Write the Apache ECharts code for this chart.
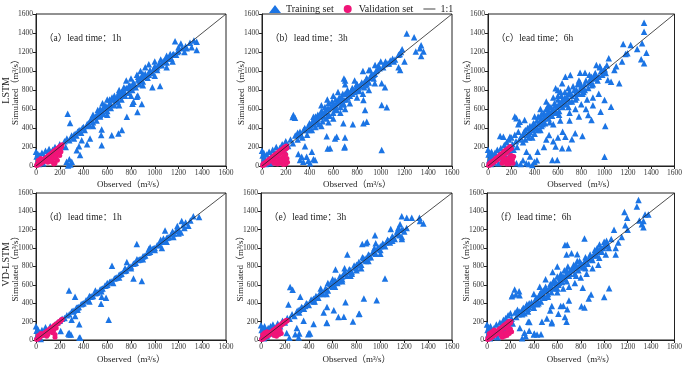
<!DOCTYPE html>
<html>
<head>
<meta charset="utf-8">
<script src="https://cdn.jsdelivr.net/npm/echarts@6/dist/echarts.min.js"></script>
<style>
  html, body { margin: 0; padding: 0; background: #fff; }
  #chartView { width: 685px; height: 365px; }
</style>
</head>
<body>
<div id="chartView"></div>
<script>
// 面板标题与行标签
var panelLabels = ['（a）lead time：1h', '（b）lead time：3h', '（c）lead time：6h',
                   '（d）lead time：1h', '（e）lead time：3h', '（f）lead time：6h'];
var rowLabels = ['LSTM', 'VD-LSTM'];
var oneToOne = [[0, 0], [1600, 1600]];

// (a) LSTM 1h
var trainA = [[0,150],[5,100],[10,40],[15,130],[20,70],[25,20],[30,110],[40,60],[50,140],[60,30],[70,100],[80,160],[90,60],[100,130],[110,180],[120,100],[140,170],[160,200],[180,150],[200,230],[220,210],[240,260],[250,200],[260,290],[280,270],[300,320],[320,290],
  [258,45],[281,70],[301,45],[290,15],[270,5],[371,115],[343,167],[362,209],[385,272],[455,289],[430,230],[553,219],[553,383],[549,326],[638,324],[694,341],[267,550],[287,453],
  [330,340],[340,320],[360,370],[380,350],[400,410],[410,380],[430,440],[450,430],[460,490],[480,460],[500,520],[510,480],[530,560],[540,520],[560,600],[570,550],[590,630],[600,580],[620,660],[630,610],[650,700],[660,640],[680,720],[690,670],[700,760],[720,700],[730,790],[750,740],[760,820],[780,770],[790,850],[810,800],[820,880],[840,830],[860,910],[870,860],[890,940],[900,890],[920,970],[940,930],[960,1010],[980,980],[1000,1050],[1020,1010],[1040,1080],[1060,1060],[1080,1110],[1100,1090],[1120,1140],[1140,1130],[1160,1180],[1180,1170],[1200,1210],
  [310,300],[350,360],[390,400],[430,420],[470,480],[510,530],[550,570],[590,600],[630,650],[670,690],[710,740],[750,770],[790,820],[830,860],[870,900],[910,940],[950,980],[990,1020],[1030,1060],[1070,1100],[1110,1130],[1150,1170],[1190,1200],[660,740],[720,780],[740,830],[860,940],[900,970],[580,640],[620,700],[540,600],[1130,1180],[1230,1240],[1260,1260],
  [320,330],[370,380],[440,450],[490,510],[540,540],[610,620],[680,700],[740,760],[810,830],[880,900],[950,960],[1020,1040],[1090,1100],[700,780],[780,840],
  [560,660],[600,700],[640,720],[700,800],[760,900],[800,920],[850,960],[880,1000],[920,1040],[950,1070],[1000,1100],[1050,1120],[1100,1160],[520,590],[480,540],
  [480,420],[600,540],[700,640],[800,740],[900,850],[1000,950],[1100,1040],
  [812,655],[854,568],[857,742],[821,677],[891,653],[849,730],[980,828],[1045,842],[723,379],[765,519],[1311,1249],[1353,1221],[1269,1239],[1297,1298],[1171,1312],[1353,1309],[1220,1290],[1330,1320],[1250,1200],[1200,1250],[1150,1100]];
var validA = [[5,5],[10,20],[15,10],[20,25],[25,15],[30,35],[35,20],[40,45],[45,30],[50,55],[55,40],[60,65],[65,45],[70,75],[75,55],[80,85],[85,60],[90,95],[95,70],[100,105],[105,80],[110,115],[115,90],[120,125],[125,100],[130,135],[135,110],[140,145],[145,120],[150,155],[155,130],[160,165],[165,140],[170,175],[175,150],[180,185],[185,160],[190,195],[195,170],[200,205],[205,180],[210,215],[215,200],[220,225],[130,60],[140,40],[150,80],[160,30],[170,100],[180,60],[190,130],[200,110],[210,150],[150,20],[120,50],[100,40],[20,60],[40,80]];

// (b) LSTM 3h
var trainB = [[0,160],[5,110],[10,50],[15,140],[20,90],[30,20],[40,120],[50,60],[60,150],[70,30],[80,110],[90,170],[100,70],[110,140],[120,200],[130,110],[150,190],[170,230],[190,160],[200,260],[220,210],[240,280],[260,240],[280,320],[300,280],[300,350],
  [320,63],[390,56],[433,70],[404,28],[348,46],[334,98],[306,126],[376,98],[362,209],[420,150],[258,516],[278,509],[264,537],[433,519],[447,63],[545,314],[553,185],[573,186],[615,289],[629,309],[697,204],[685,449],[694,195],[699,300],
  [320,360],[340,300],[360,400],[380,330],[400,450],[420,380],[440,490],[450,410],[470,540],[480,440],[500,580],[510,470],[530,620],[540,500],[560,660],[570,530],[590,680],[600,560],[620,700],[630,590],[650,720],[660,620],[680,760],[690,650],[700,900],[710,700],[720,800],[740,740],[760,820],[780,780],[800,860],[820,790],[840,880],[860,830],[880,920],[900,880],[920,960],[940,920],[960,1000],[980,1060],[1000,1100],[1020,1040],[1040,1100],[1060,1080],[1080,1110],[1100,1130],[1120,1120],[1150,1170],[1170,1200],[1180,1230],
  [310,330],[350,380],[390,420],[430,440],[470,500],[510,560],[550,600],[590,620],[630,660],[670,720],[710,760],[750,790],[790,820],[830,850],[870,890],[910,930],[950,970],[990,1030],[1030,1070],[1070,1080],[1110,1100],[1160,1180],[420,460],[480,520],[540,560],[620,640],[720,720],[760,760],[820,840],[880,860],[940,960],[580,620],[650,700],[700,760],
  [330,320],[370,380],[410,430],[460,460],[490,540],[520,520],[560,600],[610,640],[640,680],[690,700],[730,770],[770,800],[810,830],[860,880],[890,900],[930,950],[970,1010],[400,380],[460,480],[530,580],[600,620],[670,690],[730,740],[810,800],[870,850],[560,540],[620,600],[680,650],
  [450,520],[500,640],[550,700],[600,740],[640,780],[690,920],[700,860],[780,900],[850,1000],[900,1010],[600,650],[650,680],
  [500,420],[560,460],[600,500],[660,560],[700,600],[740,660],[800,720],[850,760],[900,800],[950,870],
  [798,863],[882,923],[910,1011],[952,1063],[854,695],[868,589],[882,467],[854,449],[765,440],[1008,870],[1036,828],[1008,642],[1051,618],[1008,168],[1163,1011],[1219,1396],[1281,1354],[1295,1204],[1340,1270],[1340,1158],[1360,1204],[1330,1240],[1200,1100],[1150,1040]];
var validB = [[5,5],[10,25],[15,10],[20,30],[25,15],[30,40],[40,30],[45,55],[50,35],[60,70],[65,50],[70,80],[80,65],[85,95],[90,75],[100,110],[105,85],[110,120],[120,100],[125,135],[130,115],[140,150],[145,125],[150,160],[160,140],[165,175],[170,150],[180,190],[185,165],[190,200],[200,180],[205,210],[210,190],[140,60],[150,30],[160,80],[170,40],[180,100],[190,60],[200,120],[210,80],[215,40],[130,20],[120,45],[100,30],[200,20],[180,15]];

// (c) LSTM 6h
var trainC = [[0,170],[5,120],[10,60],[15,140],[20,90],[25,20],[30,150],[40,110],[50,40],[60,140],[70,80],[80,170],[90,30],[100,120],[110,190],[120,60],[130,150],[140,220],[150,100],[160,250],[170,180],[180,280],[190,130],[200,300],[210,230],[220,170],[230,330],[240,260],[250,200],[260,360],[270,280],
  [104,316],[132,309],[188,309],[244,502],[272,467],[314,484],[230,520],[260,440],
  [244,28],[328,28],[398,46],[426,151],[360,100],[300,60],[280,20],[350,20],[380,10],[420,60],[330,150],[524,326],[580,204],[636,186],[692,186],[552,63],[594,63],[720,281],[748,344],[664,309],[640,360],[560,260],[600,300],[480,200],[500,280],
  [300,330],[320,280],[340,400],[350,300],[360,360],[380,420],[400,340],[420,480],[430,380],[450,520],[460,420],[480,560],[490,450],[500,600],[520,500],[540,620],[550,530],[570,660],[580,560],[600,700],[610,580],[630,740],[640,620],[660,780],[670,650],[690,820],[700,680],[720,740],[740,800],[750,700],[770,860],[780,760],[800,840],[820,780],[840,900],[860,820],[880,920],[900,860],[920,980],[940,900],[960,1040],[980,960],[1000,1020],[1020,1060],
  [310,360],[350,340],[390,380],[430,440],[470,480],[510,550],[550,580],[590,620],[630,680],[670,700],[710,760],[750,760],[790,800],[830,860],[870,880],[910,920],[950,940],[990,1000],[420,400],[480,500],[540,560],[620,640],[680,720],[760,800],[820,820],[880,880],[360,420],[400,440],[460,500],[520,580],[580,640],[640,700],
  [280,300],[300,250],[320,380],[340,330],[370,390],[390,450],[410,400],[440,460],[460,550],[470,440],[490,520],[510,620],[530,540],[560,600],[590,560],[610,660],[650,650],[660,720],[700,780],[720,680],[730,840],[760,720],[790,880],[810,760],[830,800],[870,960],[890,850],[930,940],[970,1000],[1010,980],[430,520],[520,640],[600,740],[690,760],[780,900],[380,300],[450,380],[530,460],[610,540],[690,620],
  [580,818],[622,782],[636,870],[664,940],[706,958],[790,982],[832,982],[888,940],[916,958],[930,1063],[960,1050],[600,800],[560,720],[500,680],[450,600],[400,520],
  [700,560],[750,600],[800,650],[850,700],[900,720],[950,760],[700,480],[780,520],[620,480],[560,440],
  [810,316],[860,537],[888,484],[840,600],[900,640],[966,572],[1000,695],[1056,625],[1006,421],[1000,98],[1028,905],[1056,888],[1126,870],[1000,1011],[1084,1011],[1036,1133],[1160,1284],[1224,1274],[1196,1186],[1280,1232],[1339,1509],[1339,1414],[1322,1291],[1359,1193],[1339,1081],[1314,1123],[1180,1180],[1150,1100],[1100,1050]];
var validC = [[5,5],[10,25],[15,10],[20,35],[25,15],[30,45],[40,30],[45,55],[50,40],[60,70],[65,50],[70,85],[80,65],[85,95],[90,75],[100,115],[105,90],[110,125],[120,100],[125,140],[130,115],[140,155],[145,130],[150,165],[160,140],[165,180],[170,155],[180,195],[185,170],[190,205],[200,185],[150,40],[160,70],[170,30],[180,90],[190,50],[200,110],[210,70],[215,30],[200,40],[180,20],[160,20],[140,80],[220,100],[130,50],[120,30]];

// (d) VD-LSTM 1h
var trainD = [[0,150],[5,100],[10,50],[15,120],[20,30],[30,80],[40,10],[50,110],[60,60],[80,140],[100,100],[120,150],[140,130],[160,170],[180,190],[200,210],[220,230],[240,240],[260,270],[280,280],
  [208,98],[272,70],[280,60],[365,28],[300,220],[330,260],[364,171],[280,77],[294,59],[372,24],
  [300,310],[320,320],[340,350],[360,360],[380,390],[400,400],[420,430],[440,440],[460,470],[480,480],[500,510],[520,520],[540,550],[560,560],[580,590],[600,600],[620,630],[640,640],[660,670],[680,680],[700,710],[720,720],[740,750],[760,760],[780,790],[800,800],[820,830],[840,840],[860,870],[880,880],[900,910],[920,920],[940,950],[960,960],[980,990],[1000,1000],[1020,1030],[1040,1040],[1060,1070],[1080,1080],[1100,1110],[1120,1120],[1140,1150],[1160,1160],[1180,1190],[1200,1200],
  [310,315],[350,355],[390,395],[430,435],[470,475],[510,515],[550,555],[590,595],[630,635],[670,675],[710,715],[750,755],[790,795],[830,835],[870,875],[910,915],[950,955],[990,995],[1030,1035],[1070,1075],[1110,1115],[1150,1155],[1190,1195],[1240,1250],[1260,1280],
  [350,330],[450,420],[550,530],[600,620],[650,620],[700,680],[750,780],[800,780],[850,880],[900,880],[950,990],[1000,980],[1050,1090],[1100,1070],[1150,1180],[1200,1160],[500,540],[450,480],
  [278,540],[329,470],[553,470],[590,460],[548,394],[612,220],[640,808],[765,850],[821,669],[891,641],[961,1010],[849,1045],[1087,1191],[1073,1104],[1157,1122],[1227,1296],[1283,1244],[1325,1348],[1373,1338],[1300,1300],[1250,1220],[1220,1170],[1190,1240],[1060,1000]];
var validD = [[5,5],[10,15],[15,10],[20,25],[25,20],[30,35],[35,30],[40,45],[50,50],[55,60],[60,55],[70,75],[75,70],[80,85],[90,90],[95,100],[100,95],[110,115],[115,110],[120,125],[130,130],[135,140],[140,135],[150,155],[155,150],[160,165],[170,170],[175,180],[180,175],[190,195],[195,190],[200,205],[210,210],[215,220],[220,225],[130,100],[140,80],[150,110],[160,60],[170,130],[120,90],[100,60],[90,40],[20,50],[40,70],[160,30]];

// (e) VD-LSTM 3h
var trainE = [[0,160],[5,110],[10,50],[15,130],[20,80],[25,20],[30,150],[40,100],[50,40],[60,130],[70,70],[80,150],[90,100],[100,170],[120,120],[140,180],[160,150],[180,210],[200,190],[220,240],[240,230],[260,280],[280,260],
  [215,77],[237,24],[287,63],[321,70],[315,28],[396,63],[402,77],[411,70],[441,174],[357,209],[300,130],[550,188],[553,185],[648,251],[694,254],[525,300],[553,359],[610,324],[708,411],[770,202],[820,282],[824,286],[862,453],[969,432],[1039,669],
  [244,578],[265,547],[230,387],[329,470],[624,767],[723,930],
  [300,310],[320,300],[340,360],[360,340],[380,400],[400,380],[420,440],[440,420],[460,480],[480,460],[500,520],[520,500],[540,560],[560,540],[580,610],[600,580],[620,650],[640,620],[660,690],[680,660],[700,730],[720,700],[740,770],[760,740],[780,810],[800,780],[820,850],[840,820],[860,890],[880,860],[900,930],[920,900],[940,970],[960,940],[980,1010],[1000,980],[1020,1050],[1040,1020],[1060,1090],[1080,1060],[1100,1130],[1120,1100],[1140,1160],[1160,1140],[1180,1100],[1180,1200],
  [310,320],[350,350],[390,390],[430,430],[470,470],[510,510],[550,550],[590,590],[630,630],[670,680],[710,720],[750,760],[790,790],[830,830],[870,870],[910,920],[950,960],[990,990],[1030,1040],[1070,1080],[1110,1110],[1150,1150],[1190,1200],[1220,1220],[600,620],[700,740],[800,820],[900,900],[1000,1020],
  [320,330],[370,370],[440,450],[490,500],[540,540],[610,620],[680,690],[740,740],[810,810],[880,890],[950,950],[1020,1030],[1090,1100],[1140,1180],[1160,1200],
  [500,560],[560,620],[600,660],[650,640],[700,780],[750,700],[800,760],[850,900],[900,860],[950,1000],[1000,940],[1050,1060],[1100,1080],[1150,1220],[450,420],[550,500],[620,580],[680,640],[760,720],[840,780],
  [848,1045],[890,1066],[880,1052],[961,1052],[955,1139],[1087,1209],[1179,1348],[1221,1330],[1165,1261],[1263,1331],[1327,1331],[1360,1268],[1332,1296],[1200,1180],[1180,1120]];
var validE = [[5,5],[10,20],[15,10],[20,30],[25,15],[30,40],[40,35],[45,50],[50,40],[60,65],[65,50],[70,75],[80,70],[85,90],[90,80],[100,105],[105,90],[110,115],[120,110],[125,130],[130,120],[140,145],[145,135],[150,155],[160,150],[165,170],[170,160],[180,185],[185,175],[190,195],[200,190],[205,210],[210,200],[215,215],[220,210],[140,90],[150,60],[160,100],[170,70],[120,60],[130,40],[110,50],[30,80],[15,60],[50,90]];

// (f) VD-LSTM 6h
var trainF = [[0,170],[5,110],[10,60],[15,140],[20,90],[25,20],[30,150],[40,110],[50,40],[60,130],[70,80],[80,170],[90,30],[100,120],[110,190],[120,70],[130,160],[140,220],[150,110],[160,240],[170,180],[180,270],[190,140],[200,290],[210,230],[220,180],[240,300],[250,250],[260,330],[270,280],
  [216,488],[236,551],[278,488],[246,495],[274,530],[212,477],
  [330,42],[320,80],[400,59],[404,70],[427,59],[461,63],[300,20],[280,130],[360,100],[362,195],[352,199],[469,199],[511,233],[539,321],[553,195],[553,181],[553,369],[609,286],[629,369],[651,373],[665,251],[679,199],[685,334],[699,429],[806,366],[832,355],[888,495],[1000,467],[1042,564],[868,453],[817,568],
  [300,330],[320,290],[340,390],[350,310],[360,360],[380,410],[400,350],[420,460],[430,390],[450,500],[460,420],[480,540],[490,460],[500,580],[520,500],[540,610],[550,520],[570,650],[580,560],[600,690],[610,600],[630,720],[640,630],[660,760],[670,660],[690,800],[700,700],[720,760],[740,820],[750,720],[770,860],[780,760],[800,840],[820,790],[840,900],[860,830],[880,930],[900,870],[920,980],[940,920],[960,1040],[980,960],[1000,1020],[1020,1080],[1040,1000],
  [310,350],[350,340],[390,380],[430,440],[470,480],[510,540],[550,580],[590,620],[630,680],[670,700],[710,760],[750,780],[790,800],[830,850],[870,880],[910,920],[950,960],[990,1000],[1030,1040],[420,400],[480,500],[540,560],[620,650],[680,720],[760,790],[820,820],[880,900],[360,400],[460,520],[580,640],[940,1000],
  [280,310],[300,280],[330,360],[370,380],[410,430],[440,470],[470,520],[500,540],[530,560],[560,620],[590,600],[620,680],[650,690],[680,760],[710,720],[730,780],[760,820],[790,860],[810,820],[850,880],[890,900],[930,960],[970,1000],[1010,1040],[440,400],[520,470],[600,560],[680,640],[760,700],[840,780],
  [615,620],[665,1035],[685,1038],[679,930],[721,944],[770,934],[832,1105],[600,800],[560,740],[500,660],[450,580],[400,500],
  [700,580],[750,620],[800,680],[850,720],[900,780],[950,820],[600,520],[650,560],
  [916,944],[958,895],[1000,1070],[1014,930],[1028,1035],[1098,1000],[1098,930],[1084,1199],[1060,1100],[1120,1060],[1150,1120],[1173,1394],[1196,1331],[1180,1250],[1200,1200],[1293,1523],[1279,1453],[1335,1296],[1321,1261],[1335,1226],[1377,1366],[1349,1366],[1300,1300]];
var validF = [[5,5],[10,25],[15,10],[20,35],[25,15],[30,45],[40,30],[45,55],[50,40],[60,70],[65,50],[70,85],[80,65],[85,95],[90,75],[100,115],[105,90],[110,125],[120,100],[125,140],[130,115],[140,155],[145,130],[150,165],[160,140],[165,180],[170,155],[180,195],[185,170],[190,205],[200,185],[205,200],[140,60],[150,40],[160,80],[170,50],[180,100],[190,70],[200,120],[210,90],[130,30],[120,50],[20,70],[40,90],[60,110]];

var trainSets = [trainA, trainB, trainC, trainD, trainE, trainF];
var validSets = [validA, validB, validC, validD, validE, validF];

var chartView = echarts.init(document.getElementById('chartView'));

var theFont = '"Liberation Serif", "Noto Sans CJK SC", serif';
var theBlue = '#1b74e4';
var thePink = '#f01478';
var theGrids = [
    {left: 36, top: 14, width: 190, height: 152},
    {left: 262, top: 14, width: 190, height: 152},
    {left: 488, top: 14, width: 190, height: 152},
    {left: 36, top: 193, width: 190, height: 153},
    {left: 261, top: 193, width: 191, height: 153},
    {left: 487, top: 193, width: 191, height: 153}
];

var option = {
    backgroundColor: '#fff',
    textStyle: {fontFamily: theFont},
    animation: false,
    legend: {
        top: -1,
        left: 264,
        itemWidth: 12,
        itemHeight: 8,
        itemGap: 10,
        textStyle: {fontFamily: theFont, fontSize: 10, color: '#222'},
        data: [
            {name: 'Training set', icon: 'triangle'},
            {name: 'Validation set', icon: 'circle'},
            {name: '1:1', icon: 'path://M0,0 L20,0 L20,1.4 L0,1.4 Z'}
        ]
    },
    title: [],
    graphic: [],
    grid: [],
    xAxis: [],
    yAxis: [],
    series: []
};

theGrids.forEach(function (g, i) {
    option.grid.push({
        left: g.left, top: g.top, width: g.width, height: g.height,
        show: true, borderColor: '#222', borderWidth: 1, backgroundColor: 'transparent'
    });
    var theAxisCommon = {
        type: 'value',
        gridIndex: i,
        min: 0,
        max: 1600,
        interval: 200,
        splitLine: {show: false},
        axisLine: {show: true, onZero: false, lineStyle: {color: '#222', width: 1}},
        axisTick: {show: true, length: 3, lineStyle: {color: '#222'}},
        axisLabel: {
            fontFamily: theFont, fontSize: 7.5, color: '#333', margin: 3,
            formatter: function (v) { return String(v); }
        },
        nameLocation: 'middle',
        nameMoveOverlap: false,
        nameTextStyle: {fontFamily: theFont, fontSize: 9, color: '#222'}
    };
    option.xAxis.push(Object.assign({}, theAxisCommon, {
        name: 'Observed（m³/s）',
        nameGap: i < 3 ? 14 : 15
    }));
    option.yAxis.push(Object.assign({}, theAxisCommon, {
        name: 'Simulated（m³/s）',
        nameGap: 16
    }));
    option.title.push({
        text: panelLabels[i],
        left: g.left + 3,
        top: g.top + 15,
        textStyle: {fontFamily: theFont, fontSize: 9.5, fontWeight: 'normal', color: '#222'}
    });
    option.series.push({
        name: 'Training set',
        type: 'scatter',
        xAxisIndex: i, yAxisIndex: i,
        symbol: 'triangle',
        symbolSize: 6.5,
        itemStyle: {color: theBlue, opacity: 1},
        data: trainSets[i]
    });
    option.series.push({
        name: 'Validation set',
        type: 'scatter',
        xAxisIndex: i, yAxisIndex: i,
        symbol: 'circle',
        symbolSize: 5,
        itemStyle: {color: thePink, opacity: 1},
        data: validSets[i]
    });
    option.series.push({
        name: '1:1',
        type: 'line',
        xAxisIndex: i, yAxisIndex: i,
        symbol: 'none',
        z: 5,
        lineStyle: {color: '#222', width: 0.8},
        itemStyle: {color: '#222'},
        data: oneToOne
    });
});

// 行标签
option.graphic.push({
    type: 'text', left: 1, top: 77, rotation: Math.PI / 2,
    style: {text: rowLabels[0], font: '10px ' + theFont, fill: '#222'}
});
option.graphic.push({
    type: 'text', left: 1, top: 242, rotation: Math.PI / 2,
    style: {text: rowLabels[1], font: '10px ' + theFont, fill: '#222'}
});

chartView.setOption(option);
</script>
</body>
</html>
